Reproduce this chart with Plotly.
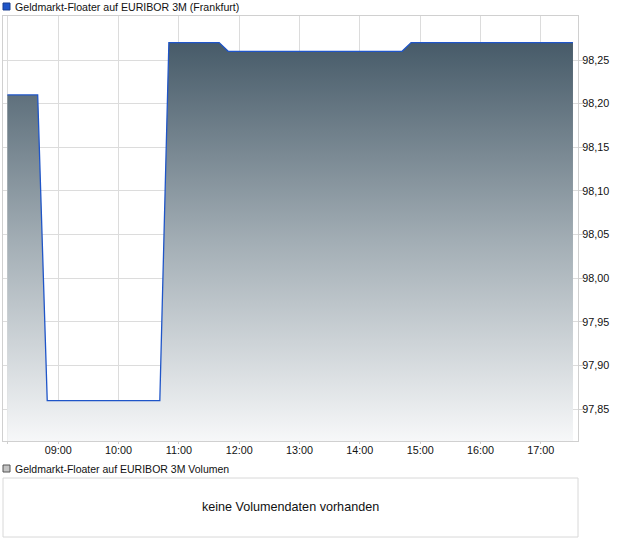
import plotly.graph_objects as go

# ---- data ----
times = ["2024-01-02 08:09:18", "2024-01-02 08:39:30", "2024-01-02 08:49:00",
         "2024-01-02 10:41:00", "2024-01-02 10:50:00", "2024-01-02 11:40:00",
         "2024-01-02 11:49:00", "2024-01-02 14:42:00", "2024-01-02 14:51:00",
         "2024-01-02 17:32:00"]
prices = [98.21, 98.21, 97.86, 97.86, 98.27, 98.27, 98.26, 98.26, 98.27, 98.27]

hour_ticks = ["2024-01-02 %02d:00" % h for h in range(9, 18)]
hour_labels = ["%02d:00" % h for h in range(9, 18)]
y_ticks = [97.85, 97.90, 97.95, 98.00, 98.05, 98.10, 98.15, 98.20, 98.25]

title_text = "Geldmarkt-Floater auf EURIBOR 3M (Frankfurt)"
volume_title = "Geldmarkt-Floater auf EURIBOR 3M Volumen"
volume_msg = "keine Volumendaten vorhanden"

x_range = ["2024-01-02 08:04:30", "2024-01-02 17:37:00"]
y_range = [97.8137, 98.3004]

W, H = 620, 546
def px(x):
    return x / W
def py(y):
    return 1 - y / H

FONT = "Liberation Sans, Arial, sans-serif"
GRID = "#dcdcdc"
TXT = "#111111"

fig = go.Figure()

# baseline for fill
fig.add_trace(go.Scatter(
    x=[times[0], times[-1]], y=[y_range[0], y_range[0]],
    mode="lines", line=dict(width=0, color="rgba(0,0,0,0)"),
    hoverinfo="skip", showlegend=False))

fig.add_trace(go.Scatter(
    x=times, y=prices, mode="lines",
    line=dict(color="#1f55c8", width=1.3),
    fill="tonexty",
    fillgradient=dict(type="vertical",
                      colorscale=[[0, "#f7f8f9"], [0.5, "#a3aeb5"], [1, "#475b69"]],
                      start=y_range[0], stop=prices[4]),
    showlegend=False))

fig.update_layout(
    width=W, height=H,
    margin=dict(l=0, r=0, t=0, b=0),
    paper_bgcolor="white", plot_bgcolor="white",
    separators=",.",
    font=dict(family=FONT, size=11, color=TXT),
    showlegend=False,
    xaxis=dict(
        domain=[px(2.5), px(578)],
        range=x_range, type="date",
        tickvals=[times[0]] + hour_ticks,
        ticktext=[""] + hour_labels,
        showgrid=True, gridcolor=GRID, gridwidth=1,
        showline=True, linecolor="#d0d0d0", linewidth=1, mirror=True,
        ticks="outside", ticklen=2, tickcolor="#d0d0d0",
        ticklabelstandoff=-3,
        tickfont=dict(size=10.8, color=TXT),
        zeroline=False, fixedrange=True,
    ),
    yaxis=dict(
        domain=[py(441), py(16)],
        range=y_range, side="right",
        tickvals=y_ticks, tickformat=".2f",
        showgrid=True, gridcolor=GRID, gridwidth=1,
        showline=True, linecolor="#d0d0d0", linewidth=1, mirror=True,
        ticks="outside", ticklen=4, tickcolor="#d0d0d0",
        ticklabelstandoff=-3,
        tickfont=dict(size=10.8, color=TXT),
        zeroline=False, fixedrange=True,
    ),
)

shapes = [
    # title legend square
    dict(type="rect", xref="paper", yref="paper",
         x0=px(3), x1=px(10), y0=py(10), y1=py(3),
         fillcolor="#1f55c8", line=dict(color="#1a3f8f", width=1)),
    # volume legend square
    dict(type="rect", xref="paper", yref="paper",
         x0=px(3), x1=px(10), y0=py(472), y1=py(465),
         fillcolor="#c4c4c4", line=dict(color="#555555", width=1)),
    # volume box
    dict(type="rect", xref="paper", yref="paper",
         x0=px(3), x1=px(578), y0=py(537), y1=py(478),
         fillcolor="rgba(0,0,0,0)", line=dict(color="#d8d8d8", width=1)),
]
fig.update_layout(shapes=shapes)

fig.add_annotation(text=title_text, xref="paper", yref="paper",
                   x=px(13), y=py(7), xanchor="left", yanchor="middle",
                   showarrow=False, font=dict(size=10.6, color=TXT, family=FONT))
fig.add_annotation(text=volume_title, xref="paper", yref="paper",
                   x=px(13), y=py(468.5), xanchor="left", yanchor="middle",
                   showarrow=False, font=dict(size=10.5, color=TXT, family=FONT))
fig.add_annotation(text=volume_msg, xref="paper", yref="paper",
                   x=px(290.5), y=py(507), xanchor="center", yanchor="middle",
                   showarrow=False, font=dict(size=12.6, color=TXT, family=FONT))

fig.write_html("out.html", config={"displayModeBar": False},
               post_script="document.body.style.margin='0';document.body.style.padding='0';document.body.style.overflow='hidden';")
